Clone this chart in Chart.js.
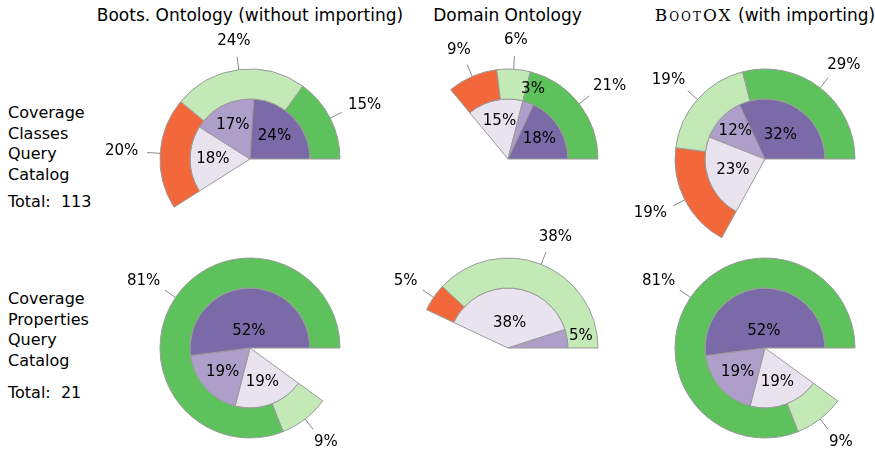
<!DOCTYPE html>
<html lang="en">
<head>
<meta charset="UTF-8">
<title>Query catalog coverage</title>
<script src="https://cdn.jsdelivr.net/npm/chart.js@4.4.0/dist/chart.umd.min.js"></script>
<style>
    body {
        margin: 0;
        background: white;
        font-family: 'DejaVu Sans', sans-serif;
        color: black;
    }
    #page {
        position: relative;
        width: 875px;
        height: 452px;
        overflow: hidden;
    }
    .pie { position: absolute; }
    .title {
        position: absolute;
        top: 5px;
        font-size: 17px;
        white-space: nowrap;
        transform: translateX(-50%);
    }
    .rowlabel {
        position: absolute;
        left: 8px;
        font-size: 16px;
        line-height: 20.7px;
        white-space: nowrap;
    }
    .sc {
        font-family: 'DejaVu Serif', serif;
        font-variant: small-caps;
        letter-spacing: 2px;
    }
</style>
</head>
<body>
<div id="page"></div>

<script>
    // column headers and row captions
    const columnTitles = ['Boots. Ontology (without importing)', 'Domain Ontology', 'BootOX (with importing)'];
    const rowLabels = [['Coverage', 'Classes', 'Query', 'Catalog'], ['Coverage', 'Properties', 'Query', 'Catalog']];
    const rowTotals = [113, 21];

    // inner pie: three parts, outer ring: three groups (percent, counter-clockwise from 3 o'clock)
    const innerParts = ['Part 1', 'Part 2', 'Part 3'];
    const outerParts = ['Group 1', 'Group 2', 'Group 3'];
    const classesInner = [[24, 17, 18], [18, 3, 15], [32, 12, 23]];
    const classesOuter = [[15, 24, 20], [21, 6, 9], [29, 19, 19]];
    const propertiesInner = [[52, 19, 19], [0, 5, 38], [52, 19, 19]];
    const propertiesOuter = [[81, 9, 0], [0, 38, 5], [81, 9, 0]];

    const innerColors = ['#7a6aa8', '#ae9fca', '#e9e3f0'];
    const outerColors = ['#5dc15c', '#c3e9b6', '#f2683b'];

    const centersX = [250, 507.5, 765];
    const centersY = [158.5, 348];
    const SIZE = 290;

    const page = document.getElementById('page');

    columnTitles.forEach((t, c) => {
        const el = document.createElement('div');
        el.className = 'title';
        el.style.left = centersX[c] + 'px';
        if (t.startsWith('BootOX')) {
            el.innerHTML = '<span class="sc">BootOX</span>' + t.slice(6);
        } else {
            el.textContent = t;
        }
        page.appendChild(el);
    });

    const labelTops = [103, 289];
    const totalTops = [191.5, 383];
    rowLabels.forEach((lines, r) => {
        const el = document.createElement('div');
        el.className = 'rowlabel';
        el.style.top = labelTops[r] + 'px';
        el.innerHTML = lines.join('<br>');
        page.appendChild(el);
        const tot = document.createElement('div');
        tot.className = 'rowlabel';
        tot.style.top = totalTops[r] + 'px';
        tot.textContent = 'Total:\u00a0 ' + rowTotals[r];
        page.appendChild(tot);
    });

    // Chart.js goes clockwise, the picture counter-clockwise from 3 o'clock,
    // so the empty rest comes first and the slices are reversed.
    function ring(values, names, colors, ring, weight) {
        const rest = 100 - values.reduce((a, b) => a + b, 0);
        return {
            ring: ring,
            weight: weight,
            labels: ['', ...names.slice().reverse()],
            data: [rest, ...values.slice().reverse()],
            backgroundColor: ['rgba(0,0,0,0)', ...colors.slice().reverse()],
            borderColor: '#9a9a9a',
            borderWidth: [0, 1, 1, 1]
        };
    }

    const sliceLabels = {
        id: 'sliceLabels',
        afterDatasetsDraw(chart) {
            const ctx = chart.ctx;
            ctx.save();
            ctx.font = '15px "DejaVu Sans"';
            ctx.fillStyle = '#000';
            ctx.textAlign = 'center';
            ctx.textBaseline = 'middle';
            chart.data.datasets.forEach((ds, di) => {
                chart.getDatasetMeta(di).data.forEach((arc, i) => {
                    const v = ds.data[i];
                    if (i === 0 || v === 0) return;
                    const p = arc.getProps(['x', 'y', 'startAngle', 'endAngle', 'outerRadius'], true);
                    const a = (p.startAngle + p.endAngle) / 2;
                    const cos = Math.cos(a), sin = Math.sin(a);
                    const text = v + '%';
                    if (ds.ring === 'outer') {
                        ctx.strokeStyle = '#8a8a8a';
                        ctx.lineWidth = 1;
                        ctx.beginPath();
                        ctx.moveTo(p.x + cos * p.outerRadius, p.y + sin * p.outerRadius);
                        ctx.lineTo(p.x + cos * (p.outerRadius + 13), p.y + sin * (p.outerRadius + 13));
                        ctx.stroke();
                        const w = ctx.measureText(text).width;
                        const r = p.outerRadius + 22;
                        ctx.fillText(text, p.x + cos * (r + w / 2), p.y + sin * (r + 7));
                    } else {
                        const d = v < 10 ? p.outerRadius * 1.23 : p.outerRadius * (0.8 - 0.01 * v);
                        ctx.fillText(text, p.x + cos * d, p.y + sin * d);
                    }
                });
            });
            ctx.restore();
        }
    };

    const rows = [[classesInner, classesOuter], [propertiesInner, propertiesOuter]];
    rows.forEach(([inner, outer], r) => {
        for (let c = 0; c < 3; c++) {
            const cv = document.createElement('canvas');
            cv.className = 'pie';
            cv.width = SIZE;
            cv.height = SIZE;
            cv.style.left = (centersX[c] - SIZE / 2) + 'px';
            cv.style.top = (centersY[r] - SIZE / 2) + 'px';
            page.appendChild(cv);
            new Chart(cv.getContext('2d'), {
                type: 'pie',
                data: {
                    datasets: [
                        ring(outer[c], outerParts, outerColors, 'outer', 1),
                        ring(inner[c], innerParts, innerColors, 'inner', 2)
                    ]
                },
                options: {
                    responsive: false,
                    animation: false,
                    events: [],
                    rotation: 90,
                    radius: 90,
                    cutout: 0,
                    plugins: { legend: { display: false }, tooltip: { enabled: false } }
                },
                plugins: [sliceLabels]
            });
        }
    });
</script>
</body>
</html>
